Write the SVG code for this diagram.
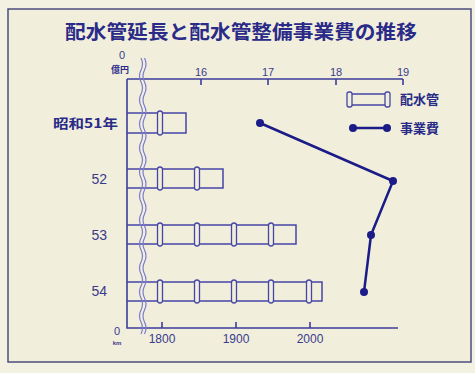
<svg xmlns="http://www.w3.org/2000/svg" width="475" height="373" viewBox="0 0 475 373">
<style>
.ax{stroke:#3d3d9a;stroke-width:1.6;fill:none}
.pipe{stroke:#4646a6;stroke-width:1.5;fill:none}
.joint{stroke:#4646a6;stroke-width:1.3;fill:#f1efdc}
.wave{stroke:#7c7cd0;stroke-width:1.2;fill:none}
.num{font-family:"Liberation Sans","Noto Sans CJK JP",sans-serif;fill:#3a3a8c}
.jp{font-family:"Noto Sans CJK JP",sans-serif;fill:#2a2a88;font-weight:bold}
.dot{fill:#1c1c88}
</style>
<rect x="0" y="0" width="475" height="373" fill="#f3f2e2"/>
<rect x="8" y="9" width="463" height="353" fill="#f1efdc" stroke="#4c4c7c" stroke-width="1.5"/>
<text id="title" x="241" y="39" class="jp" font-size="19" font-weight="900" text-anchor="middle" textLength="352" lengthAdjust="spacingAndGlyphs">配水管延長と配水管整備事業費の推移</text>
<g id="axes">
<path class="ax" d="M127,79 H403 M127,79 V328 H398"/>
<path class="ax" d="M201,79 v6 M268,79 v6 M336,79 v6 M403,79 v6"/>
<path class="ax" d="M162,328 v-6 M236,328 v-6 M310,328 v-6"/>
<text class="num" x="122" y="59" font-size="11" text-anchor="middle">0</text>
<text class="jp" x="120" y="73" font-size="9" text-anchor="middle">億円</text>
<text class="num" x="201" y="76" font-size="11" text-anchor="middle">16</text>
<text class="num" x="268" y="76" font-size="11" text-anchor="middle">17</text>
<text class="num" x="336" y="76" font-size="11" text-anchor="middle">18</text>
<text class="num" x="403" y="76" font-size="11" text-anchor="middle">19</text>
<text class="num" x="117" y="335" font-size="11" text-anchor="middle">0</text>
<text class="num" x="117" y="345" font-size="6" font-weight="bold" text-anchor="middle">km</text>
<text class="num" x="162" y="343" font-size="12" text-anchor="middle">1800</text>
<text class="num" x="236" y="343" font-size="12" text-anchor="middle">1900</text>
<text class="num" x="310" y="343" font-size="12" text-anchor="middle">2000</text>
</g>
<g id="year-labels">
<text class="jp" x="118" y="128" font-size="13" font-weight="500" text-anchor="end" textLength="65" lengthAdjust="spacingAndGlyphs">昭和51年</text>
<text class="num" x="107" y="184" font-size="14" text-anchor="end">52</text>
<text class="num" x="107" y="240" font-size="14" text-anchor="end">53</text>
<text class="num" x="107" y="296" font-size="14" text-anchor="end">54</text>
</g>
<g id="bar-51">
<path class="pipe" d="M127,113 H186 V133 H127"/>
<rect class="joint" x="157.5" y="111" width="5" height="24" rx="2.5"/>
</g>
<g id="bar-52">
<path class="pipe" d="M127,169 H223 V188 H127"/>
<rect class="joint" x="157.5" y="167" width="5" height="23" rx="2.5"/>
<rect class="joint" x="194.5" y="167" width="5" height="23" rx="2.5"/>
</g>
<g id="bar-53">
<path class="pipe" d="M127,225 H296 V244 H127"/>
<rect class="joint" x="157.5" y="223" width="5" height="23" rx="2.5"/>
<rect class="joint" x="194.5" y="223" width="5" height="23" rx="2.5"/>
<rect class="joint" x="231.5" y="223" width="5" height="23" rx="2.5"/>
<rect class="joint" x="268.5" y="223" width="5" height="23" rx="2.5"/>
</g>
<g id="bar-54">
<path class="pipe" d="M127,282 H322 V301 H127"/>
<rect class="joint" x="157.5" y="280" width="5" height="23" rx="2.5"/>
<rect class="joint" x="194.5" y="280" width="5" height="23" rx="2.5"/>
<rect class="joint" x="231.5" y="280" width="5" height="23" rx="2.5"/>
<rect class="joint" x="268.5" y="280" width="5" height="23" rx="2.5"/>
<rect class="joint" x="306.5" y="280" width="5" height="23" rx="2.5"/>
</g>
<g id="break-mark">
<path class="wave" d="M141,58 q3,6 0,12 t0,12 t0,12 t0,12 t0,12 t0,12 t0,12 t0,12 t0,12 t0,12 t0,12 t0,12 t0,12 t0,12 t0,12 t0,12 t0,12 t0,12 t0,12 t0,12 t0,12 t0,12 t0,12"/>
<path class="wave" d="M144.5,58 q3,6 0,12 t0,12 t0,12 t0,12 t0,12 t0,12 t0,12 t0,12 t0,12 t0,12 t0,12 t0,12 t0,12 t0,12 t0,12 t0,12 t0,12 t0,12 t0,12 t0,12 t0,12 t0,12 t0,12"/>
</g>
<g id="connectors">
<polyline points="260,123 393,181 371,235 364,292" fill="none" stroke="#1c1c88" stroke-width="2.5" stroke-linejoin="round"/>
</g>
<g id="points">
<circle class="dot" cx="260" cy="123" r="4"/>
<circle class="dot" cx="393" cy="181" r="4"/>
<circle class="dot" cx="371" cy="235" r="4"/>
<circle class="dot" cx="364" cy="292" r="4"/>
</g>
<g id="legend">
<path class="pipe" d="M350,94 H387 M350,105 H387"/>
<rect class="joint" x="347" y="92" width="5" height="15" rx="2"/>
<rect class="joint" x="385" y="92" width="5" height="15" rx="2"/>
<text class="jp" x="400" y="104" font-size="13">配水管</text>
<line x1="353" y1="128" x2="387" y2="128" stroke="#1c1c88" stroke-width="2.5"/>
<circle class="dot" cx="353" cy="128" r="4"/>
<circle class="dot" cx="387" cy="128" r="4"/>
<text class="jp" x="400" y="133" font-size="13">事業費</text>
</g>
</svg>
